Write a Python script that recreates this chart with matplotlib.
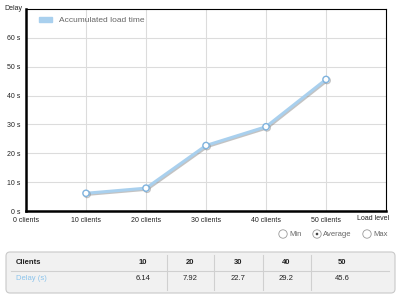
import matplotlib.pyplot as plt
import matplotlib.patheffects as pe
from matplotlib.patches import FancyBboxPatch, Circle

plt.rcParams['font.family'] = ['Liberation Sans', 'DejaVu Sans']

clients = [10, 20, 30, 40, 50]
delay = [6.14, 7.92, 22.7, 29.2, 45.6]
xticks = [0, 10, 20, 30, 40, 50]
yticks = [0, 10, 20, 30, 40, 50, 60]
series_name = 'Accumulated load time'

fig = plt.figure(figsize=(4, 2.98), dpi=100)
ax = fig.add_axes([26/400, 1 - 211/298, 360/400, 202/298])

ax.plot(clients, delay, color='#a9d0ee', lw=2.2, marker='o', ms=4.5,
        mfc='white', mec='#7fb3de', mew=1.0, solid_capstyle='round',
        path_effects=[pe.SimpleLineShadow(offset=(0.8, -0.8), shadow_color='#888888', alpha=0.5),
                      pe.Normal()], zorder=3)

ax.set_xlim(0, 60)
ax.set_ylim(0, 70)
ax.set_xticks(xticks)
ax.set_xticklabels([f'{c} clients' for c in xticks])
ax.set_yticks(yticks)
ax.set_yticklabels([f'{d} s' for d in yticks])
ax.tick_params(length=0, labelsize=5, pad=4, colors='#222222')
ax.grid(True, color='#dcdcdc', lw=0.8)
ax.set_axisbelow(True)
for s in ['top', 'right']:
    ax.spines[s].set_linewidth(0.8)
for s in ['left', 'bottom']:
    ax.spines[s].set_linewidth(1.8)

leg = ax.legend([plt.Rectangle((0, 0), 1, 1, color='#a9d0ee')], [series_name],
                loc='upper left', frameon=False, fontsize=6, handlelength=1.6,
                handleheight=0.6, bbox_to_anchor=(0.015, 1.0))
for t in leg.get_texts():
    t.set_color('#666666')

fig.text(4/400, 1 - 9/298, 'Delay', fontsize=5, va='center', ha='left', color='#222222')
fig.text(373/400, 1 - 219/298, 'Load level', fontsize=5, va='center', ha='center', color='#222222')

# radio buttons
ov = fig.add_axes([0, 0, 1, 1])
ov.set_xlim(0, 400)
ov.set_ylim(298, 0)
ov.axis('off')
ov.set_zorder(-1)
for cx, label, sel in [(283, 'Min', False), (317, 'Average', True), (367, 'Max', False)]:
    ov.add_patch(Circle((cx, 234), 4.2, fc='white', ec='#9a9a9a', lw=0.6))
    if sel:
        ov.add_patch(Circle((cx, 234), 1.3, fc='#444444', ec='none'))
    ov.text(cx + 6, 234, label, fontsize=5.5, va='center', ha='left', color='#666666')

# table
ov.add_patch(FancyBboxPatch((6, 252), 389, 41, boxstyle='round,pad=0,rounding_size=4',
                            fc='#f1f1f1', ec='#c9c9c9', lw=0.8))
ov.plot([11, 389], [271, 271], color='#d0d0d0', lw=0.8)
seps = [167, 214, 263, 311]
for sx in seps:
    ov.plot([sx, sx], [255, 290], color='#d0d0d0', lw=0.8)
ov.text(16, 263, 'Clients', fontsize=5.5, fontweight='bold', va='center', color='#222222')
ov.text(16, 279, 'Delay (s)', fontsize=5.5, va='center', color='#8cc4ec')
centers = [143, 190, 238, 286, 342]
for cx, c, d in zip(centers, clients, delay):
    ov.text(cx, 263, str(c), fontsize=5.5, fontweight='bold', va='center', ha='center', color='#222222')
    ov.text(cx, 279, f'{d:g}', fontsize=5.5, va='center', ha='center', color='#222222')

fig.savefig('out.png', dpi=100)
